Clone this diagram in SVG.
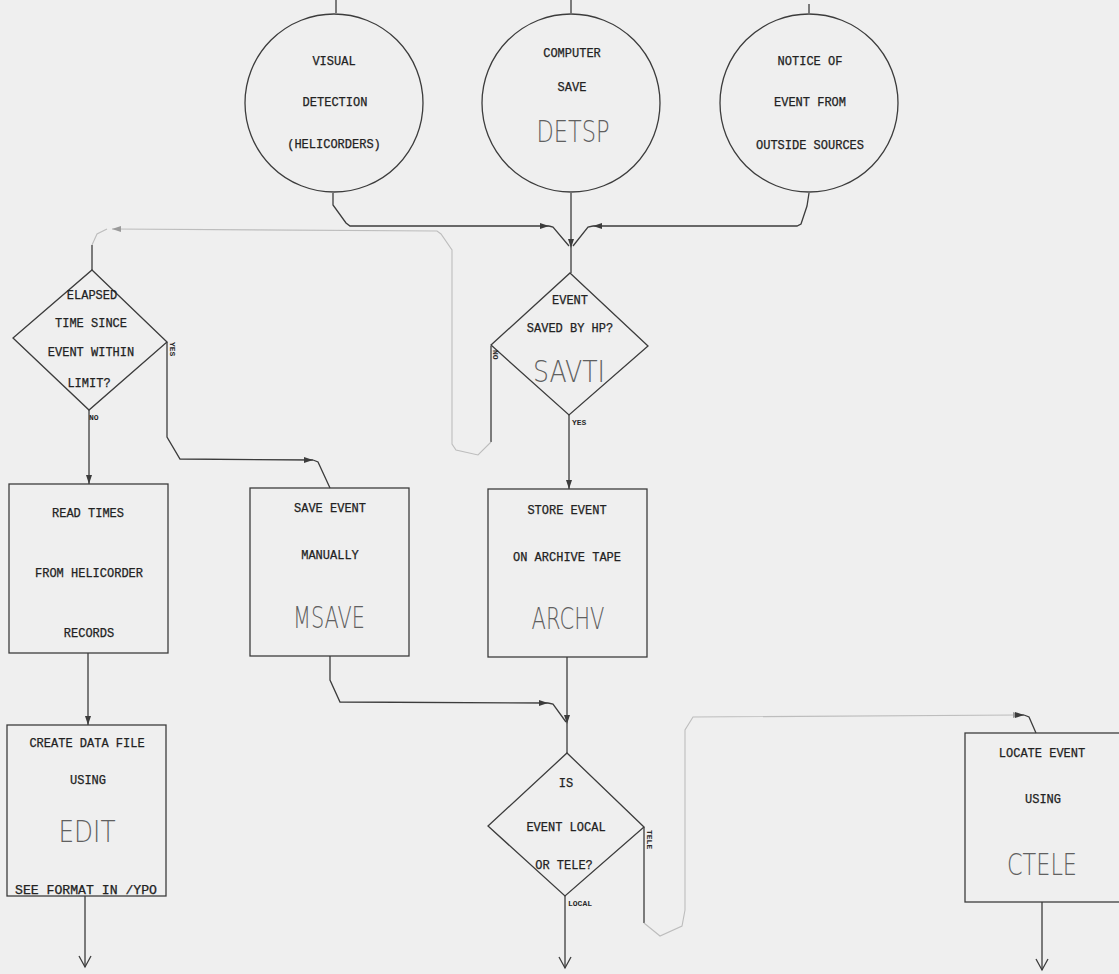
<svg xmlns="http://www.w3.org/2000/svg" width="1119" height="974" viewBox="0 0 1119 974">
<style>
.sh{fill:none;stroke:#3c3c3c;stroke-width:1.3}
.ln{fill:none;stroke:#3c3c3c;stroke-width:1.3}
.fl{fill:none;stroke:#bdbdbd;stroke-width:1.1}
.t{font-family:"Liberation Mono","DejaVu Sans Mono",monospace;font-size:12px;fill:#222;text-anchor:middle;stroke:#222;stroke-width:0.25}
.s{font-family:"Liberation Mono","DejaVu Sans Mono",monospace;font-size:8px;fill:#2a2a2a;font-weight:bold}
.b{font-family:"DejaVu Sans","Liberation Sans",sans-serif;font-size:30px;font-weight:200;fill:#606060;text-anchor:middle}
</style>
<defs>
<marker id="af" markerWidth="10" markerHeight="8" refX="9" refY="4" orient="auto" markerUnits="userSpaceOnUse"><path d="M0,1 L9,4 L0,7 z" fill="#3c3c3c"/></marker>
<marker id="ao" markerWidth="14" markerHeight="14" refX="12" refY="7" orient="auto" markerUnits="userSpaceOnUse"><path d="M1,1 L12,7 L1,13" fill="none" stroke="#3c3c3c" stroke-width="1.3"/></marker>
<marker id="afl" markerWidth="10" markerHeight="8" refX="9" refY="4" orient="auto" markerUnits="userSpaceOnUse"><path d="M0,1 L9,4 L0,7 z" fill="#9a9a9a"/></marker>
</defs>
<rect x="0" y="0" width="1119" height="974" fill="#efefef"/>

<g id="connectors">
  <path class="ln" d="M336,0 V13"/>
  <path class="ln" d="M571,0 V13"/>
  <path class="ln" d="M809,4 V13"/>
  <path class="ln" d="M333,193 V205 L346,223 L350,226 L549,226" marker-end="url(#af)"/>
  <path class="ln" d="M549,226 L553,227 L569,246"/>
  <path class="ln" d="M809,193 L807,206 L801,224 L797,226 L593,226" marker-end="url(#af)"/>
  <path class="ln" d="M593,226 L588,227 L573,246"/>
  <path class="ln" d="M571,193 V248" marker-end="url(#af)"/>
  <path class="ln" d="M571,248 V273"/>
  <path class="ln" d="M491,346 V442"/>
  <path class="fl" d="M491,442 L478,455 L456,450 L452,444 V250 L441,234 L437,231 L112,229" marker-end="url(#afl)"/>
  <path class="fl" d="M107,229 L97,234 L92,245"/>
  <path class="ln" d="M92,245 V270"/>
  <path class="ln" d="M89,410 V484" marker-end="url(#af)"/>
  <path class="ln" d="M167,342 V437 L180,459 L313,460" marker-end="url(#af)"/>
  <path class="ln" d="M313,460 L318,462 L330,488"/>
  <path class="ln" d="M569,415 V489" marker-end="url(#af)"/>
  <path class="ln" d="M88,653 V725" marker-end="url(#af)"/>
  <path class="ln" d="M85,896 V967" marker-end="url(#ao)"/>
  <path class="ln" d="M330,656 V680 L340,702 L548,703" marker-end="url(#af)"/>
  <path class="ln" d="M548,703 L553,704 L566,722"/>
  <path class="ln" d="M567,657 V724" marker-end="url(#af)"/>
  <path class="ln" d="M567,724 V753"/>
  <path class="ln" d="M565,896 V968" marker-end="url(#ao)"/>
  <path class="ln" d="M644,827 V923"/>
  <path class="fl" d="M644,923 L660,936 L682,926 L685,910 V730 L693,717 L1022,715" marker-end="url(#afl)"/>
  <path class="ln" d="M1016,715 L1024,715" marker-end="url(#af)"/>
  <path class="ln" d="M1024,715 L1029,717 L1036,733"/>
  <path class="ln" d="M1042,902 V970" marker-end="url(#ao)"/>
</g>

<g id="visual-detection">
  <circle class="sh" cx="334" cy="103" r="89"/>
  <text class="t" x="334" y="65">VISUAL</text>
  <text class="t" x="335" y="106">DETECTION</text>
  <text class="t" x="334" y="148">(HELICORDERS)</text>
</g>
<g id="computer-save">
  <circle class="sh" cx="571" cy="103" r="89"/>
  <text class="t" x="572" y="57">COMPUTER</text>
  <text class="t" x="572" y="91">SAVE</text>
  <text class="b" x="573" y="142" textLength="73" lengthAdjust="spacingAndGlyphs">DETSP</text>
</g>
<g id="notice-of-event">
  <circle class="sh" cx="809" cy="103" r="89"/>
  <text class="t" x="810" y="65">NOTICE OF</text>
  <text class="t" x="810" y="106">EVENT FROM</text>
  <text class="t" x="810" y="149">OUTSIDE SOURCES</text>
</g>

<g id="elapsed-time">
  <path class="sh" d="M92,270 L167,342 L89,410 L13,338 Z"/>
  <text class="t" x="92" y="299">ELAPSED</text>
  <text class="t" x="91" y="327">TIME SINCE</text>
  <text class="t" x="91" y="356">EVENT WITHIN</text>
  <text class="t" x="89" y="387">LIMIT?</text>
  <text class="s" transform="translate(170,342) rotate(90)">YES</text>
  <text class="s" x="89" y="420">NO</text>
</g>

<g id="savti">
  <path class="sh" d="M570,273 L648,346 L569,415 L491,345 Z"/>
  <text class="t" x="570" y="304">EVENT</text>
  <text class="t" x="570" y="332">SAVED BY HP?</text>
  <text class="b" x="569" y="382" textLength="72" lengthAdjust="spacingAndGlyphs">SAVTI</text>
  <text class="s" transform="translate(493,350) rotate(90)">NO</text>
  <text class="s" x="572" y="425">YES</text>
</g>

<g id="read-times">
  <rect class="sh" x="9" y="484" width="159" height="169"/>
  <text class="t" x="88" y="517">READ TIMES</text>
  <text class="t" x="89" y="577">FROM HELICORDER</text>
  <text class="t" x="89" y="637">RECORDS</text>
</g>

<g id="msave">
  <rect class="sh" x="250" y="488" width="159" height="168"/>
  <text class="t" x="330" y="512">SAVE EVENT</text>
  <text class="t" x="330" y="559">MANUALLY</text>
  <text class="b" x="329" y="628" textLength="72" lengthAdjust="spacingAndGlyphs">MSAVE</text>
</g>

<g id="archv">
  <rect class="sh" x="488" y="489" width="159" height="168"/>
  <text class="t" x="567" y="514">STORE EVENT</text>
  <text class="t" x="567" y="561">ON ARCHIVE TAPE</text>
  <text class="b" x="568" y="629" textLength="73" lengthAdjust="spacingAndGlyphs">ARCHV</text>
</g>

<g id="edit">
  <rect class="sh" x="7" y="725" width="159" height="171"/>
  <text class="t" x="87" y="747">CREATE DATA FILE</text>
  <text class="t" x="88" y="784">USING</text>
  <text class="b" x="87" y="842" textLength="57" lengthAdjust="spacingAndGlyphs">EDIT</text>
  <text class="t" x="86" y="894" textLength="142" lengthAdjust="spacingAndGlyphs">SEE FORMAT IN /YPO</text>
</g>

<g id="local-or-tele">
  <path class="sh" d="M567,753 L644,827 L565,896 L488,826 Z"/>
  <text class="t" x="566" y="787">IS</text>
  <text class="t" x="566" y="831">EVENT LOCAL</text>
  <text class="t" x="564" y="869">OR TELE?</text>
  <text class="s" transform="translate(647,830) rotate(90)">TELE</text>
  <text class="s" x="568" y="906">LOCAL</text>
</g>

<g id="ctele">
  <rect class="sh" x="965" y="733" width="160" height="169"/>
  <text class="t" x="1042" y="757">LOCATE EVENT</text>
  <text class="t" x="1043" y="803">USING</text>
  <text class="b" x="1042" y="875" textLength="70" lengthAdjust="spacingAndGlyphs">CTELE</text>
</g>
</svg>
